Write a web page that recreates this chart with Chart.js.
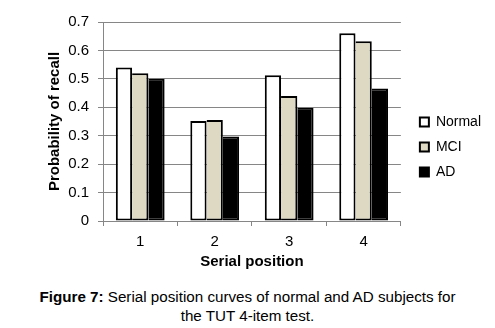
<!DOCTYPE html>
<html>
<head>
<meta charset="utf-8">
<script src="https://cdn.jsdelivr.net/npm/chart.js@4/dist/chart.umd.min.js"></script>
<style>
    html, body { margin: 0; padding: 0; background: #fff; }
    body { width: 495px; height: 328px; position: relative; overflow: hidden; font-family: "Liberation Sans", Arial, sans-serif; }
    #wrap { position: absolute; left: 0; top: 0; width: 495px; height: 272px; }
    #caption { position: absolute; left: 0; top: 288px; width: 495px; text-align: center; font-size: 15.2px; line-height: 18.7px; color: #000; }
</style>
</head>
<body>
<div id="wrap"><canvas id="chart"></canvas></div>
<div id="caption"><b>Figure 7:</b> Serial position curves of normal and AD subjects for<br>the TUT 4-item test.</div>
<script>
const positions = ['1', '2', '3', '4'];
const normalRecall = [0.54, 0.352, 0.513, 0.66];
const mciRecall = [0.52, 0.355, 0.44, 0.632];
const adRecall = [0.50, 0.297, 0.398, 0.466];
const yTicks = [0, 0.1, 0.2, 0.3, 0.4, 0.5, 0.6, 0.7];

const FONT = '"Liberation Sans", Arial, sans-serif';
const GRID = '#868686';

Chart.defaults.color = '#000';
Chart.defaults.font.family = FONT;

// push the legend a bit away from the plot, the way the original sits
const legendOffset = {
    id: 'legendOffset',
    afterLayout(chart) {
        chart.legend.left += 8;
        chart.legend.right += 8;
    }
};

new Chart(document.getElementById('chart').getContext('2d'), {
    type: 'bar',
    data: {
        labels: positions,
        datasets: [{
            label: 'Normal',
            data: normalRecall,
            backgroundColor: '#ffffff',
            borderColor: '#000',
            borderWidth: 2
        }, {
            label: 'MCI',
            data: mciRecall,
            backgroundColor: '#ddd9c3',
            borderColor: '#000',
            borderWidth: { top: 2, right: 2, bottom: 2, left: 0 }
        }, {
            label: 'AD',
            data: adRecall,
            backgroundColor: '#000',
            borderColor: '#000',
            borderWidth: { top: 2, right: 2, bottom: 2, left: 0 }
        }]
    },
    options: {
        responsive: true,
        maintainAspectRatio: false,
        animation: false,
        datasets: {
            bar: {
                barPercentage: 1,
                categoryPercentage: 0.655,
                borderSkipped: false
            }
        },
        layout: {
            padding: { top: 22, right: 12, bottom: 0, left: 0 }
        },
        plugins: {
            tooltip: { enabled: false },
            legend: {
                position: 'right',
                labels: {
                    boxWidth: 9,
                    boxHeight: 9,
                    padding: 11,
                    font: { size: 14, family: FONT },
                    generateLabels(chart) {
                        const items = Chart.defaults.plugins.legend.labels.generateLabels(chart);
                        items.forEach(it => { it.lineWidth = 2; it.strokeStyle = '#000'; });
                        return items;
                    }
                }
            }
        },
        scales: {
            x: {
                grid: {
                    drawOnChartArea: false,
                    drawTicks: true,
                    tickLength: 5,
                    color: GRID,
                    offset: true
                },
                border: { color: GRID, width: 1 },
                ticks: {
                    padding: 7,
                    font: { size: 15, family: FONT }
                },
                title: {
                    display: true,
                    text: 'Serial position',
                    font: { size: 15, weight: 'bold', family: FONT },
                    padding: { top: 0, bottom: 1 }
                },
                afterFit(scale) {
                    scale.height = 51;
                }
            },
            y: {
                min: 0,
                max: 0.7,
                afterBuildTicks(scale) {
                    scale.ticks = yTicks.map(v => ({ value: v }));
                },
                grid: {
                    color: GRID,
                    tickLength: 5
                },
                border: { color: GRID, width: 1 },
                ticks: {
                    padding: 9,
                    font: { size: 15, family: FONT },
                    callback: v => v === 0 ? '0' : v.toFixed(1)
                },
                title: {
                    display: true,
                    text: 'Probability of recall',
                    font: { size: 15, weight: 'bold', family: FONT },
                    padding: { top: 46, bottom: 0 }
                },
                afterFit(scale) {
                    scale.width = 103;
                }
            }
        }
    },
    plugins: [legendOffset]
});
</script>
</body>
</html>
